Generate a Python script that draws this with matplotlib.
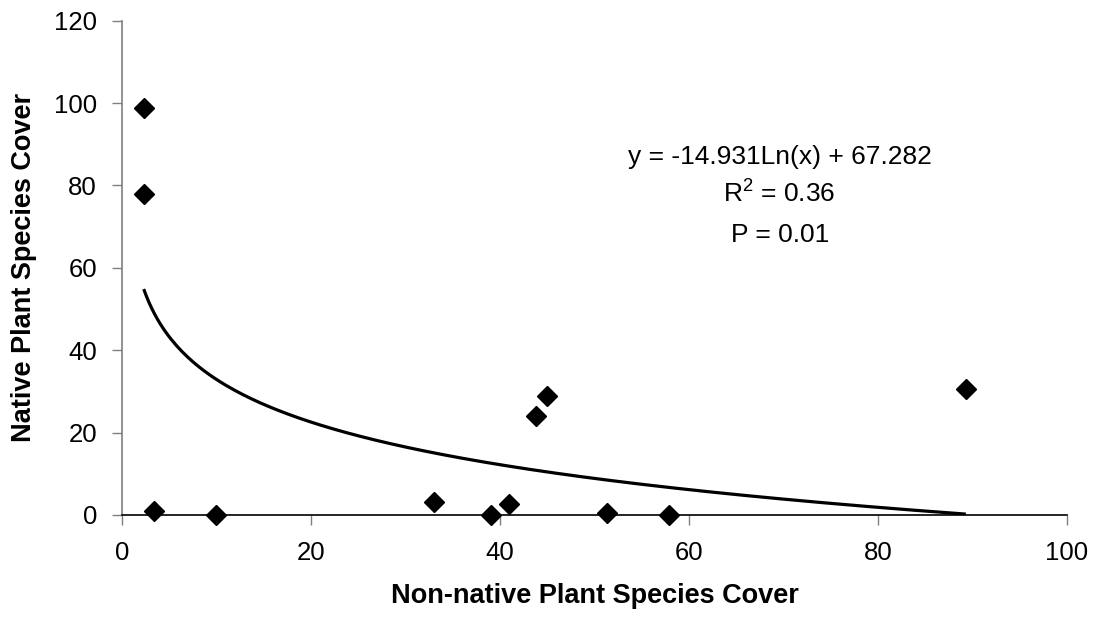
import numpy as np
import matplotlib
matplotlib.use("Agg")
import matplotlib.pyplot as plt

plt.rcParams['font.family'] = ['Liberation Sans', 'DejaVu Sans']

# Observed cover values per plot
non_native_cover = [2.3, 2.3, 3.4, 10.0, 33.0, 39.1, 41.0, 43.8, 45.0, 51.3, 57.9, 89.3]
native_cover = [98.8, 78.0, 0.9, 0.0, 3.2, 0.0, 2.7, 24.0, 29.0, 0.5, 0.0, 30.6]

# Logarithmic fit reported on the chart
fit_slope = -14.931
fit_intercept = 67.282
r_squared = "0.36"
p_value = "0.01"

x_ticks = [0, 20, 40, 60, 80, 100]
y_ticks = [0, 20, 40, 60, 80, 100, 120]

fig = plt.figure(figsize=(10.96, 6.23), dpi=100)
ax = fig.add_axes([0.1113, 0.1734, 0.8622, 0.7934])

xs = np.linspace(min(non_native_cover), max(non_native_cover), 300)
ax.plot(xs, fit_slope * np.log(xs) + fit_intercept, color='black', lw=2.3,
        solid_capstyle='butt', zorder=2)
ax.plot(non_native_cover, native_cover, linestyle='none', marker='D',
        markersize=10.5, color='black', clip_on=False, zorder=3)

ax.set_xlim(0, 100)
ax.set_ylim(0, 120)
ax.set_xticks(x_ticks)
ax.set_yticks(y_ticks)
ax.tick_params(axis='both', direction='out', length=7, width=1,
               color='#808080', labelsize=18.5)
ax.tick_params(axis='x', pad=11.8)
ax.tick_params(axis='y', pad=11)

for side in ('top', 'right'):
    ax.spines[side].set_visible(False)
ax.spines['left'].set_color('#808080')
ax.spines['left'].set_linewidth(1.2)
ax.spines['bottom'].set_color('black')
ax.spines['bottom'].set_linewidth(1.2)

ax.set_xlabel('Non-native Plant Species Cover', fontsize=19.5,
              fontweight='bold', labelpad=13)
ax.set_ylabel('Native Plant Species Cover', fontsize=19.5,
              fontweight='bold', labelpad=12)

# Fit equation and statistics, one line each
eq_x = 69.6
ax.text(eq_x, 85.3, f"y = {fit_slope}Ln(x) + {fit_intercept}",
        ha='center', va='baseline', fontsize=19)
ax.text(eq_x, 75.8, f"$\\mathregular{{R^2}}$ = {r_squared}",
        ha='center', va='baseline', fontsize=19)
ax.text(eq_x, 66.3, f"P = {p_value}",
        ha='center', va='baseline', fontsize=19)

fig.savefig('out.png', dpi=100, facecolor='white')
